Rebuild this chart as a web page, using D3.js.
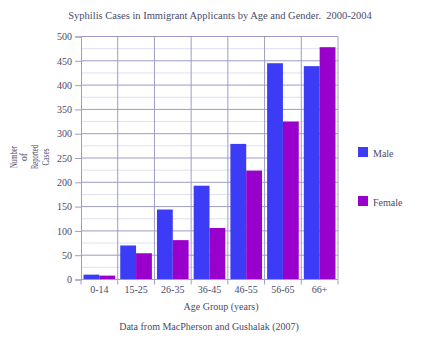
<!DOCTYPE html>
<html>
<head>
<meta charset="utf-8">
<script src="https://cdn.jsdelivr.net/npm/d3@7"></script>
<style>
  html, body { margin: 0; padding: 0; background: #ffffff; }
  svg { display: block; }
  text { font-family: "Liberation Serif", "Times New Roman", serif; fill: #4a4a68; }
</style>
</head>
<body>
<svg id="chart" width="439" height="340"></svg>
<script>
// Age groups and reported syphilis cases, 2000-2004
const ageGroups = ["0-14", "15-25", "26-35", "36-45", "46-55", "56-65", "66+"];
const seriesNames = ["Male", "Female"];
const maleCases = [10, 70, 144, 193, 279, 445, 439];
const femaleCases = [8, 54, 81, 106, 224, 325, 478];
const yTicks = [0, 50, 100, 150, 200, 250, 300, 350, 400, 450, 500];
const yMinor = [25, 75, 125, 175, 225, 275, 325, 375, 425, 475];

const colors = { Male: "#3c3cf6", Female: "#9a00cc" };
const gridMajor = "#9e9cc4";
const gridMinor = "#e0e0f0";

const svg = d3.select("#chart");
const plot = { left: 81, right: 338, top: 36.5, bottom: 279.5 };

const x = d3.scaleBand().domain(ageGroups).range([plot.left, plot.right]).paddingInner(0).paddingOuter(0);
const xSeries = d3.scaleBand().domain(seriesNames).range([0, x.bandwidth()]).paddingInner(0).paddingOuter(0.16);
const y = d3.scaleLinear().domain([0, 500]).range([plot.bottom, plot.top]);

// minor horizontal grid
svg.append("g").selectAll("line").data(yMinor).join("line")
  .attr("x1", plot.left).attr("x2", plot.right)
  .attr("y1", d => y(d)).attr("y2", d => y(d))
  .attr("stroke", gridMinor).attr("stroke-width", 1);

// major horizontal grid
svg.append("g").selectAll("line").data(yTicks.slice(1)).join("line")
  .attr("x1", plot.left).attr("x2", plot.right)
  .attr("y1", d => y(d)).attr("y2", d => y(d))
  .attr("stroke", gridMajor).attr("stroke-width", 1);

// vertical grid at category boundaries
const boundaries = ageGroups.map(g => x(g) + x.bandwidth());
svg.append("g").selectAll("line").data(boundaries).join("line")
  .attr("x1", d => d).attr("x2", d => d)
  .attr("y1", plot.top).attr("y2", plot.bottom)
  .attr("stroke", gridMajor).attr("stroke-width", 1);

// bars
const rows = ageGroups.map((g, i) => ({ group: g, Male: maleCases[i], Female: femaleCases[i] }));
svg.append("g").selectAll("g").data(rows).join("g")
  .attr("transform", d => `translate(${x(d.group)},0)`)
  .selectAll("rect")
  .data(d => seriesNames.map(s => ({ s, v: d[s] })))
  .join("rect")
  .attr("x", d => xSeries(d.s))
  .attr("width", xSeries.bandwidth())
  .attr("y", d => y(d.v))
  .attr("height", d => y(0) - y(d.v))
  .attr("fill", d => colors[d.s]);

// y axis
const yAxis = svg.append("g")
  .attr("transform", `translate(${plot.left},0)`)
  .call(d3.axisLeft(y).tickValues(yTicks).tickSize(6).tickPadding(3));
yAxis.select(".domain").attr("stroke", gridMajor);
yAxis.selectAll(".tick line").attr("stroke", gridMajor);
yAxis.selectAll("text").attr("font-size", 10)
  .attr("font-family", "Liberation Serif, serif").attr("fill", "#4a4a68");

// x axis: ticks at band boundaries, labels centred in bands
const xAxisG = svg.append("g").attr("transform", `translate(0,${plot.bottom})`);
xAxisG.append("line").attr("x1", plot.left).attr("x2", plot.right)
  .attr("stroke", gridMajor);
xAxisG.selectAll("line.tk").data([plot.left].concat(boundaries)).join("line")
  .attr("class", "tk")
  .attr("x1", d => d).attr("x2", d => d).attr("y1", 0).attr("y2", 5)
  .attr("stroke", gridMajor);
xAxisG.selectAll("text").data(ageGroups).join("text")
  .attr("x", d => x(d) + x.bandwidth() / 2)
  .attr("y", 13)
  .attr("text-anchor", "middle")
  .attr("font-size", 10)
  .text(d => d);

// title
svg.append("text").attr("x", 220).attr("y", 18.5).attr("text-anchor", "middle")
  .attr("font-size", 10.5)
  .text("Syphilis Cases in Immigrant Applicants by Age and Gender.\u00a0\u00a02000-2004");

// x axis title
svg.append("text").attr("x", 221).attr("y", 309.5).attr("text-anchor", "middle")
  .attr("font-size", 10).text("Age Group (years)");

// source note
svg.append("text").attr("x", 209).attr("y", 330).attr("text-anchor", "middle")
  .attr("font-size", 10).text("Data from MacPherson and Gushalak (2007)");

// y axis title, four stacked lines
const yTitle = [
  { t: "Number", len: 22 },
  { t: "of", len: 8 },
  { t: "Reported", len: 24 },
  { t: "Cases", len: 17 }
];
const yTitleG = svg.append("g").attr("transform", "translate(0,157) rotate(-90)");
yTitleG.selectAll("text").data(yTitle).join("text")
  .attr("x", 0)
  .attr("y", (d, i) => 16.5 + i * 10.8)
  .attr("text-anchor", "middle")
  .attr("font-size", 10)
  .attr("textLength", d => d.len)
  .attr("lengthAdjust", "spacingAndGlyphs")
  .text(d => d.t);

// legend
const legend = svg.append("g").selectAll("g").data(seriesNames).join("g")
  .attr("transform", (d, i) => `translate(358,${147 + i * 49})`);
legend.append("rect").attr("width", 10).attr("height", 10)
  .attr("fill", d => colors[d]);
legend.append("text").attr("x", 15).attr("y", 9.5)
  .attr("font-size", 10).text(d => d);
</script>
</body>
</html>
